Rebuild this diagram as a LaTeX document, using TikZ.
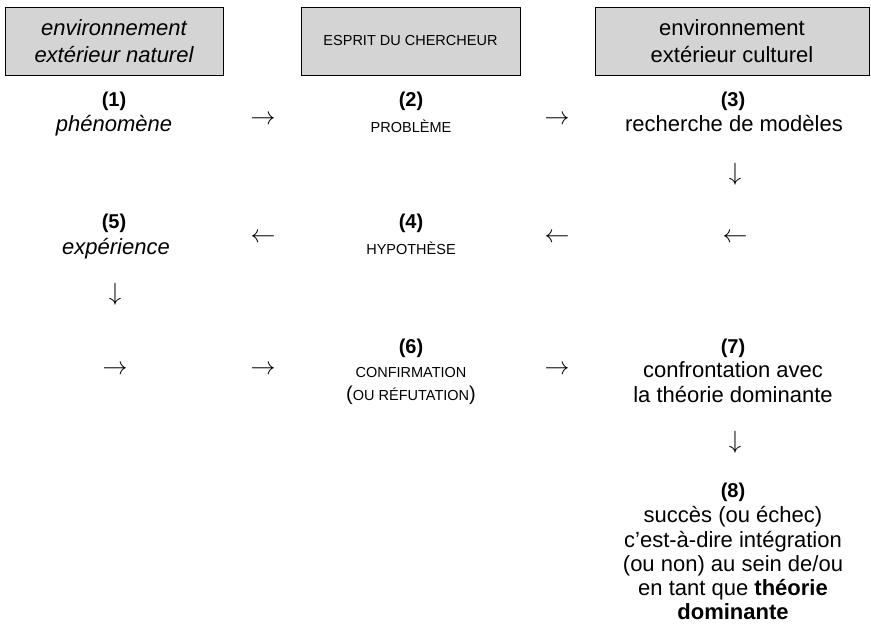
\documentclass[tikz,border=0pt]{standalone}
\usepackage{fontspec}
\setmainfont{Liberation Sans}
\definecolor{boxgray}{RGB}{212,212,212}
\begin{document}
\begin{tikzpicture}[x=1pt,y=-1pt,
  envbox/.style={draw=black, line width=0.8pt, fill=boxgray, inner sep=0pt, align=center},
  lab/.style={anchor=base, inner sep=0pt, font=\fontsize{20}{24}\selectfont\bfseries},
  txt/.style={anchor=base, inner sep=0pt, font=\fontsize{22}{24}\selectfont},
  itx/.style={anchor=base, inner sep=0pt, font=\fontsize{22}{24}\selectfont\itshape},
  sc/.style={anchor=base, inner sep=0pt, font=\fontsize{14.5}{16}\selectfont},
  arr/.style={inner sep=0pt, font=\fontsize{25}{25}\selectfont}]
\useasboundingbox (0,0) rectangle (871,629);
% boxes
\node[envbox, minimum width=218pt, minimum height=68pt, font=\fontsize{22}{27}\selectfont\itshape] (b1) at (114,41) {environnement\\extérieur naturel};
\node[envbox, minimum width=219pt, minimum height=68pt, font=\fontsize{14.5}{17}\selectfont] (b2) at (410.5,41) {ESPRIT DU CHERCHEUR};
\node[envbox, minimum width=274pt, minimum height=68pt, font=\fontsize{22}{27}\selectfont] (b3) at (732,41) {environnement\\extérieur culturel};
% row 1
\node[lab] (l1) at (114,106) {(1)};
\node[itx] (t1) at (114,131) {phénomène};
\node[lab] (l2) at (411,106) {(2)};
\node[sc] (t2) at (411,132) {PROBLÈME};
\node[lab] (l3) at (733,106) {(3)};
\node[txt] (t3) at (734,131) {recherche de modèles};
\node[arr] (a12) at (263,120) {$\rightarrow$};
\node[arr] (a23) at (557,120) {$\rightarrow$};
\node[arr] (a3d) at (735,174) {$\downarrow$};
% row 2
\node[lab] (l5) at (114,228) {(5)};
\node[itx] (t5) at (116,254) {expérience};
\node[lab] (l4) at (411,228) {(4)};
\node[sc] (t4) at (411,254) {HYPOTHÈSE};
\node[arr] (a45) at (263,238) {$\leftarrow$};
\node[arr] (a34) at (557,238) {$\leftarrow$};
\node[arr] (a33) at (735,238) {$\leftarrow$};
\node[arr] (a5d) at (115,294) {$\downarrow$};
% row 3
\node[arr] (a61) at (115,370) {$\rightarrow$};
\node[arr] (a62) at (263,370) {$\rightarrow$};
\node[arr] (a67) at (557,370) {$\rightarrow$};
\node[lab] (l6) at (411,353) {(6)};
\node[sc] (t6a) at (411,377) {CONFIRMATION};
\node[sc] (t6b) at (411,400) {{\fontsize{20}{20}\selectfont(}OU RÉFUTATION{\fontsize{20}{20}\selectfont)}};
\node[lab] (l7) at (733,353) {(7)};
\node[txt] (t7a) at (733,377) {confrontation avec};
\node[txt] (t7b) at (733,402) {la théorie dominante};
\node[arr] (a7d) at (735,442) {$\downarrow$};
% (8)
\node[lab] (l8) at (733,497) {(8)};
\node[txt] (t8a) at (733,522) {succès (ou échec)};
\node[txt] (t8b) at (733,547) {c’est-à-dire intégration};
\node[txt] (t8c) at (733,571) {(ou non) au sein de/ou};
\node[txt] (t8d) at (733,595) {en tant que \textbf{théorie}};
\node[txt] (t8e) at (733,619) {\textbf{dominante}};
\end{tikzpicture}
\end{document}
